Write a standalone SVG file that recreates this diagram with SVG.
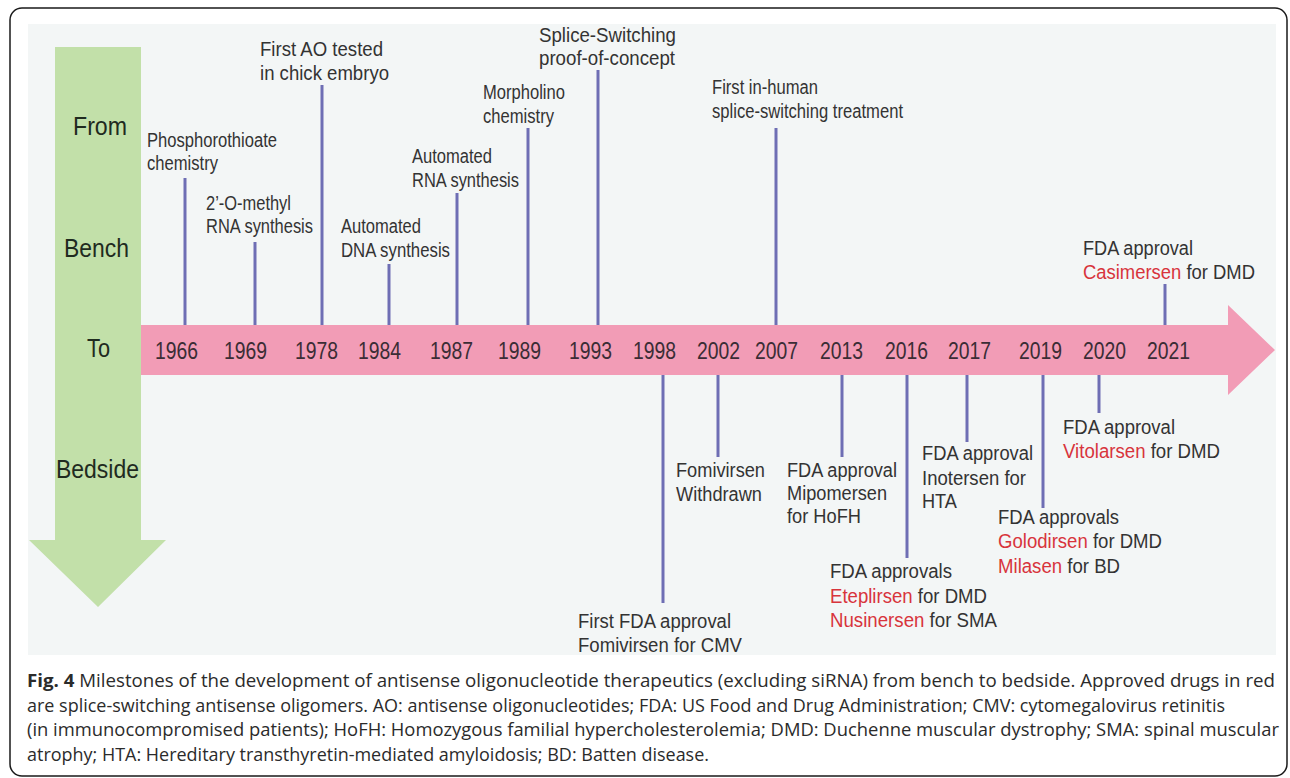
<svg xmlns="http://www.w3.org/2000/svg" width="1290" height="778" viewBox="0 0 1290 778">
<defs>
<style>
.lbl{font-family:"Liberation Sans",Arial,sans-serif;font-size:19.5px;fill:#333333}
.red{fill:#d8343c}
.yr{font-family:"Liberation Sans",Arial,sans-serif;font-size:24px;fill:#3b2d35}
.side{font-family:"Liberation Sans",Arial,sans-serif;font-size:25px;fill:#1f2b1f}
.cap{font-family:"Open Sans","Noto Sans",sans-serif;font-size:17.5px;fill:#2b2b2b}
.conn line{stroke:#6e6eb4;stroke-width:3}
</style>
</defs>
<rect x="10" y="8" width="1277" height="768" rx="12" ry="12" fill="#ffffff" stroke="#1a1a1a" stroke-width="1.5"/>
<rect x="28" y="24" width="1248" height="631" fill="#f3f6f6"/>

<g id="bench-to-bedside-arrow">
<polygon points="55,47 141,47 141,540 166,540 98,607 29,540 55,540" fill="#c2e0a9"/>
<text class="side" x="73" y="135" textLength="54" lengthAdjust="spacingAndGlyphs">From</text>
<text class="side" x="64" y="257" textLength="65" lengthAdjust="spacingAndGlyphs">Bench</text>
<text class="side" x="87" y="357" textLength="23" lengthAdjust="spacingAndGlyphs">To</text>
<text class="side" x="56" y="478" textLength="83" lengthAdjust="spacingAndGlyphs">Bedside</text>
</g>

<g id="timeline-arrow">
<polygon points="141,325 1228,325 1228,305 1275,350 1228,395 1228,375 141,375" fill="#f29cb6"/>
<g class="yr">
<text x="155" y="359" textLength="43" lengthAdjust="spacingAndGlyphs">1966</text>
<text x="224" y="359" textLength="43" lengthAdjust="spacingAndGlyphs">1969</text>
<text x="295" y="359" textLength="43" lengthAdjust="spacingAndGlyphs">1978</text>
<text x="358" y="359" textLength="43" lengthAdjust="spacingAndGlyphs">1984</text>
<text x="430" y="359" textLength="43" lengthAdjust="spacingAndGlyphs">1987</text>
<text x="498" y="359" textLength="43" lengthAdjust="spacingAndGlyphs">1989</text>
<text x="569" y="359" textLength="43" lengthAdjust="spacingAndGlyphs">1993</text>
<text x="633" y="359" textLength="43" lengthAdjust="spacingAndGlyphs">1998</text>
<text x="697" y="359" textLength="43" lengthAdjust="spacingAndGlyphs">2002</text>
<text x="755" y="359" textLength="43" lengthAdjust="spacingAndGlyphs">2007</text>
<text x="820" y="359" textLength="43" lengthAdjust="spacingAndGlyphs">2013</text>
<text x="885" y="359" textLength="43" lengthAdjust="spacingAndGlyphs">2016</text>
<text x="948" y="359" textLength="43" lengthAdjust="spacingAndGlyphs">2017</text>
<text x="1019" y="359" textLength="43" lengthAdjust="spacingAndGlyphs">2019</text>
<text x="1083" y="359" textLength="43" lengthAdjust="spacingAndGlyphs">2020</text>
<text x="1147" y="359" textLength="43" lengthAdjust="spacingAndGlyphs">2021</text>
</g>
</g>

<g id="connectors" class="conn">
<line x1="185" y1="178" x2="185" y2="325"/>
<line x1="255" y1="242" x2="255" y2="325"/>
<line x1="322" y1="85" x2="322" y2="325"/>
<line x1="389" y1="264" x2="389" y2="325"/>
<line x1="457" y1="193" x2="457" y2="325"/>
<line x1="528" y1="128" x2="528" y2="325"/>
<line x1="598" y1="70" x2="598" y2="325"/>
<line x1="776" y1="128" x2="776" y2="325"/>
<line x1="1165" y1="284" x2="1165" y2="325"/>
<line x1="663" y1="375" x2="663" y2="603"/>
<line x1="718" y1="375" x2="718" y2="457"/>
<line x1="842" y1="375" x2="842" y2="457"/>
<line x1="907" y1="375" x2="907" y2="558"/>
<line x1="967" y1="375" x2="967" y2="442"/>
<line x1="1043" y1="375" x2="1043" y2="508"/>
<line x1="1099" y1="375" x2="1099" y2="413"/>
</g>

<g id="m1966" class="lbl">
<text x="147" y="147" textLength="130" lengthAdjust="spacingAndGlyphs">Phosphorothioate</text>
<text x="147" y="170" textLength="71" lengthAdjust="spacingAndGlyphs">chemistry</text>
</g>
<g id="m1969" class="lbl">
<text x="206" y="210" textLength="85" lengthAdjust="spacingAndGlyphs">2’-O-methyl</text>
<text x="206" y="233" textLength="107" lengthAdjust="spacingAndGlyphs">RNA synthesis</text>
</g>
<g id="m1978" class="lbl">
<text x="260" y="56" textLength="123" lengthAdjust="spacingAndGlyphs">First AO tested</text>
<text x="260" y="80" textLength="129" lengthAdjust="spacingAndGlyphs">in chick embryo</text>
</g>
<g id="m1984" class="lbl">
<text x="341" y="233" textLength="80" lengthAdjust="spacingAndGlyphs">Automated</text>
<text x="341" y="257" textLength="109" lengthAdjust="spacingAndGlyphs">DNA synthesis</text>
</g>
<g id="m1987" class="lbl">
<text x="412" y="163" textLength="80" lengthAdjust="spacingAndGlyphs">Automated</text>
<text x="412" y="187" textLength="107" lengthAdjust="spacingAndGlyphs">RNA synthesis</text>
</g>
<g id="m1989" class="lbl">
<text x="483" y="99" textLength="82" lengthAdjust="spacingAndGlyphs">Morpholino</text>
<text x="483" y="123" textLength="71" lengthAdjust="spacingAndGlyphs">chemistry</text>
</g>
<g id="m1993" class="lbl">
<text x="539" y="42" textLength="137" lengthAdjust="spacingAndGlyphs">Splice-Switching</text>
<text x="539" y="65" textLength="136" lengthAdjust="spacingAndGlyphs">proof-of-concept</text>
</g>
<g id="m2007" class="lbl">
<text x="712" y="94" textLength="106" lengthAdjust="spacingAndGlyphs">First in-human</text>
<text x="712" y="118" textLength="191" lengthAdjust="spacingAndGlyphs">splice-switching treatment</text>
</g>
<g id="m2021" class="lbl">
<text x="1083" y="255" textLength="110" lengthAdjust="spacingAndGlyphs">FDA approval</text>
<text x="1083" y="279" textLength="172" lengthAdjust="spacingAndGlyphs"><tspan class="red">Casimersen</tspan> for DMD</text>
</g>

<g id="m1998" class="lbl">
<text x="578" y="628" textLength="153" lengthAdjust="spacingAndGlyphs">First FDA approval</text>
<text x="578" y="652" textLength="164" lengthAdjust="spacingAndGlyphs">Fomivirsen for CMV</text>
</g>
<g id="m2002" class="lbl">
<text x="676" y="477" textLength="89" lengthAdjust="spacingAndGlyphs">Fomivirsen</text>
<text x="676" y="501" textLength="86" lengthAdjust="spacingAndGlyphs">Withdrawn</text>
</g>
<g id="m2013" class="lbl">
<text x="787" y="477" textLength="110" lengthAdjust="spacingAndGlyphs">FDA approval</text>
<text x="787" y="500" textLength="100" lengthAdjust="spacingAndGlyphs">Mipomersen</text>
<text x="787" y="523" textLength="74" lengthAdjust="spacingAndGlyphs">for HoFH</text>
</g>
<g id="m2016" class="lbl">
<text x="830" y="578" textLength="122" lengthAdjust="spacingAndGlyphs">FDA approvals</text>
<text x="830" y="603" textLength="157" lengthAdjust="spacingAndGlyphs"><tspan class="red">Eteplirsen</tspan> for DMD</text>
<text x="830" y="627" textLength="167" lengthAdjust="spacingAndGlyphs"><tspan class="red">Nusinersen</tspan> for SMA</text>
</g>
<g id="m2017" class="lbl">
<text x="922" y="460" textLength="111" lengthAdjust="spacingAndGlyphs">FDA approval</text>
<text x="922" y="485" textLength="104" lengthAdjust="spacingAndGlyphs">Inotersen for</text>
<text x="922" y="508" textLength="35" lengthAdjust="spacingAndGlyphs">HTA</text>
</g>
<g id="m2019" class="lbl">
<text x="998" y="524" textLength="121" lengthAdjust="spacingAndGlyphs">FDA approvals</text>
<text x="998" y="548" textLength="164" lengthAdjust="spacingAndGlyphs"><tspan class="red">Golodirsen</tspan> for DMD</text>
<text x="998" y="573" textLength="122" lengthAdjust="spacingAndGlyphs"><tspan class="red">Milasen</tspan> for BD</text>
</g>
<g id="m2020" class="lbl">
<text x="1063" y="434" textLength="112" lengthAdjust="spacingAndGlyphs">FDA approval</text>
<text x="1063" y="458" textLength="157" lengthAdjust="spacingAndGlyphs"><tspan class="red">Vitolarsen</tspan> for DMD</text>
</g>

<g id="caption" class="cap">
<text x="27" y="687" textLength="1248" lengthAdjust="spacingAndGlyphs"><tspan font-weight="bold">Fig. 4</tspan> Milestones of the development of antisense oligonucleotide therapeutics (excluding siRNA) from bench to bedside. Approved drugs in red</text>
<text x="27" y="711.5" textLength="1198" lengthAdjust="spacingAndGlyphs">are splice-switching antisense oligomers. AO: antisense oligonucleotides; FDA: US Food and Drug Administration; CMV: cytomegalovirus retinitis</text>
<text x="27" y="736" textLength="1252" lengthAdjust="spacingAndGlyphs">(in immunocompromised patients); HoFH: Homozygous familial hypercholesterolemia; DMD: Duchenne muscular dystrophy; SMA: spinal muscular</text>
<text x="27" y="761" textLength="682" lengthAdjust="spacingAndGlyphs">atrophy; HTA: Hereditary transthyretin-mediated amyloidosis; BD: Batten disease.</text>
</g>
</svg>
